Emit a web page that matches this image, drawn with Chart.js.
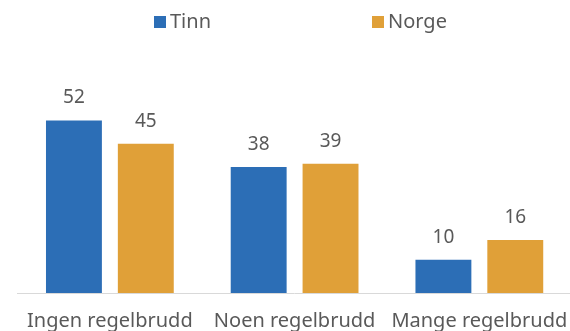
<!DOCTYPE html>
<html>
<head>
<meta charset="utf-8">
<script src="https://cdn.jsdelivr.net/npm/chart.js@4"></script>
<style>
  html, body { margin: 0; padding: 0; background: #fff; overflow: hidden; }
  #regelChart { position: absolute; left: 0; top: 0; }
</style>
</head>
<body>
<canvas id="regelChart" width="576" height="341"></canvas>
<script>
// Andel med regelbrudd, Tinn mot Norge
const categories = ['Ingen regelbrudd', 'Noen regelbrudd', 'Mange regelbrudd'];
const tinnValues = [52, 38, 10];
const norgeValues = [45, 39, 16];
const seriesNames = ['Tinn', 'Norge'];

const BLUE = '#2c6eb6';
const ORANGE = '#e0a038';
const TEXT = '#595959';
const FONT = "'Noto Sans', sans-serif";

// value labels above each bar
const valueLabels = {
  id: 'valueLabels',
  afterDatasetsDraw(chart) {
    const ctx = chart.ctx;
    ctx.save();
    ctx.font = '19px ' + FONT;
    ctx.fillStyle = TEXT;
    ctx.textAlign = 'center';
    ctx.textBaseline = 'bottom';
    chart.data.datasets.forEach((ds, i) => {
      chart.getDatasetMeta(i).data.forEach((bar, j) => {
        ctx.fillText(String(ds.data[j]), bar.x, bar.y - 13);
      });
    });
    ctx.restore();
  }
};

// legend drawn by hand so the two items can sit far apart
const topLegend = {
  id: 'topLegend',
  afterDraw(chart) {
    const ctx = chart.ctx;
    const items = [
      { x: 154, color: BLUE, text: seriesNames[0] },
      { x: 372, color: ORANGE, text: seriesNames[1] }
    ];
    ctx.save();
    ctx.font = '20px ' + FONT;
    ctx.textBaseline = 'middle';
    items.forEach(it => {
      ctx.fillStyle = it.color;
      ctx.fillRect(it.x, 16, 12, 12);
      ctx.fillStyle = TEXT;
      ctx.fillText(it.text, it.x + 16, 22);
    });
    ctx.restore();
  }
};

new Chart(document.getElementById('regelChart'), {
  type: 'bar',
  data: {
    labels: categories,
    datasets: [
      { label: seriesNames[0], data: tinnValues, backgroundColor: BLUE },
      { label: seriesNames[1], data: norgeValues, backgroundColor: ORANGE }
    ]
  },
  options: {
    responsive: false,
    animation: false,
    categoryPercentage: 0.778,
    barPercentage: 0.778,
    layout: { padding: { left: 17.5, right: 4.25, top: 94, bottom: 0 } },
    plugins: {
      legend: { display: false },
      tooltip: { enabled: false }
    },
    scales: {
      x: {
        grid: { display: false },
        border: { color: '#d9d9d9', width: 1 },
        ticks: {
          color: TEXT,
          font: { family: FONT, size: 20 },
          padding: 8,
          maxRotation: 0,
          autoSkip: false
        }
      },
      y: {
        display: false,
        min: 0,
        max: 60
      }
    }
  },
  plugins: [valueLabels, topLegend]
});
</script>
</body>
</html>
